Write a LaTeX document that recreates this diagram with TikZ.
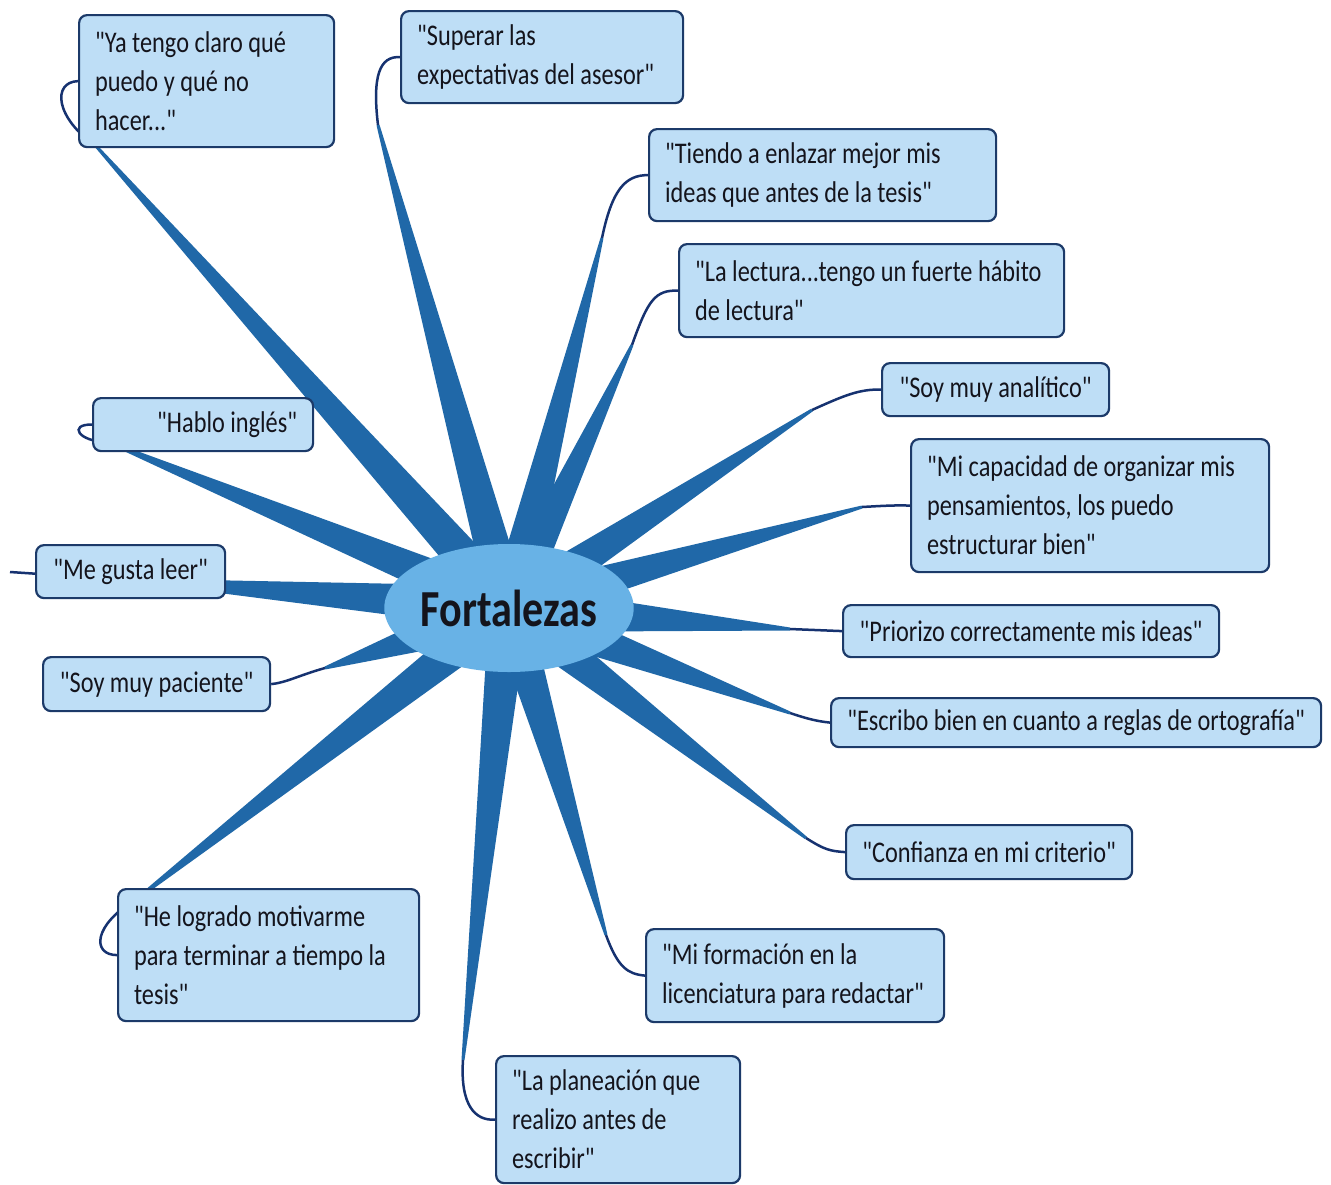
\documentclass[tikz,border=0pt]{standalone}
\usepackage{fontspec}
\setmainfont{Carlito}[FakeStretch=0.81, Ligatures=TeXOff]
\usepackage{xcolor}
\usetikzlibrary{calc,shapes.geometric,backgrounds}

\definecolor{cajafondo}{RGB}{190,222,246}
\definecolor{cajaborde}{RGB}{28,58,105}
\definecolor{ramaazul}{RGB}{32,104,168}
\definecolor{hiloazul}{RGB}{22,50,112}
\definecolor{centrofondo}{RGB}{104,178,230}
\definecolor{texto}{RGB}{20,20,28}

\begin{document}
\begin{tikzpicture}[x=1pt, y=-1pt,
  caja/.style={rectangle, rounded corners=8pt, draw=cajaborde, line width=2.2pt, fill=cajafondo, anchor=north west, inner xsep=16pt, inner ysep=0pt, text=texto, font=\fontsize{30}{39}\selectfont},
  centro/.style={ellipse, fill=centrofondo, minimum width=234pt, minimum height=128pt, inner sep=0pt, text=texto, font=\fontsize{52}{60}\selectfont\bfseries},
  rama/.style={fill=ramaazul},
  hilo/.style={draw=hiloazul, line width=2.5pt}]

\useasboundingbox (0,0) rectangle (1331,1184);

\node (fort) [centro] at (509,608) {Fortalezas};

\node (b1) [caja, text width=223pt, align=flush left, minimum height=132pt] at (78,14) {"Ya tengo claro qué\\puedo y qué no\\hacer..."};
\node (b2) [caja, text width=250pt, align=flush left, minimum height=92pt] at (400,10) {"Superar las\\expectativas del asesor"};
\node (b3) [caja, text width=315pt, align=flush left, minimum height=92pt] at (648,128) {"Tiendo a enlazar mejor mis\\ideas que antes de la tesis"};
\node (b4) [caja, text width=353pt, align=flush left, minimum height=93pt] at (678,243) {"La lectura...tengo un fuerte hábito\\de lectura"};
\node (b5) [caja, minimum width=227pt, minimum height=53pt] at (881,362) {"Soy muy analítico"};
\node (b6) [caja, text width=326pt, align=flush left, minimum height=133pt] at (910,438) {"Mi capacidad de organizar mis\\pensamientos, los puedo\\estructurar bien"};
\node (b7) [caja, minimum width=376pt, minimum height=52pt] at (842,604) {"Priorizo correctamente mis ideas"};
\node (b8) [caja, minimum width=490pt, minimum height=49pt] at (830,697) {"Escribo bien en cuanto a reglas de ortografía"};
\node (b9) [caja, minimum width=286pt, minimum height=54pt] at (845,824) {"Confianza en mi criterio"};
\node (b10) [caja, text width=266pt, align=flush left, minimum height=93pt] at (645,928) {"Mi formación en la\\licenciatura para redactar"};
\node (b11) [caja, text width=212pt, align=flush left, minimum height=127pt] at (495,1055) {"La planeación que\\realizo antes de\\escribir"};
\node (b12) [caja, text width=269pt, align=flush left, minimum height=132pt] at (117,888) {"He logrado motivarme\\para terminar a tiempo la\\tesis"};
\node (b13) [caja, minimum width=227pt, minimum height=54pt] at (42,656) {"Soy muy paciente"};
\node (b14) [caja, minimum width=189pt, minimum height=53pt] at (35,544) {"Me gusta leer"};
\node (b15) [caja, text width=188pt, align=flush right, minimum height=53pt] at (92,397) {"Hablo inglés"};

\coordinate (t1) at (96,146);
\coordinate (t2) at (378,125);
\coordinate (t3) at (602,238);
\coordinate (t4) at (632,345);
\coordinate (t5) at (812,410);
\coordinate (t6) at (862,507);
\coordinate (t7) at (790,629);
\coordinate (t8) at (790,713);
\coordinate (t9) at (806,838);
\coordinate (t10) at (606,935);
\coordinate (t11) at (463,1060);
\coordinate (t12) at (138,898);
\coordinate (t13) at (325,668);
\coordinate (t14) at (130,580);
\coordinate (t15) at (108,442);
\coordinate (c14) at (10,572);

\begin{scope}[on background layer]
\fill[white] (0,0) rectangle (1331,1184);

\fill[rama] ($(fort.center)!20pt!90:(t1)$) -- ($(t1)!1.5pt!-90:(fort.center)$) -- ($(t1)!1.5pt!90:(fort.center)$) -- ($(fort.center)!20pt!-90:(t1)$) -- cycle;
\fill[rama] ($(fort.center)!20pt!90:(t2)$) -- ($(t2)!1.5pt!-90:(fort.center)$) -- ($(t2)!1.5pt!90:(fort.center)$) -- ($(fort.center)!20pt!-90:(t2)$) -- cycle;
\fill[rama] ($(fort.center)!20pt!90:(t3)$) -- ($(t3)!1.5pt!-90:(fort.center)$) -- ($(t3)!1.5pt!90:(fort.center)$) -- ($(fort.center)!20pt!-90:(t3)$) -- cycle;
\fill[rama] ($(fort.center)!20pt!90:(t4)$) -- ($(t4)!1.5pt!-90:(fort.center)$) -- ($(t4)!1.5pt!90:(fort.center)$) -- ($(fort.center)!20pt!-90:(t4)$) -- cycle;
\fill[rama] ($(fort.center)!20pt!90:(t5)$) -- ($(t5)!1.5pt!-90:(fort.center)$) -- ($(t5)!1.5pt!90:(fort.center)$) -- ($(fort.center)!20pt!-90:(t5)$) -- cycle;
\fill[rama] ($(fort.center)!20pt!90:(t6)$) -- ($(t6)!1.5pt!-90:(fort.center)$) -- ($(t6)!1.5pt!90:(fort.center)$) -- ($(fort.center)!20pt!-90:(t6)$) -- cycle;
\fill[rama] ($(fort.center)!24pt!90:(t7)$) -- ($(t7)!1.5pt!-90:(fort.center)$) -- ($(t7)!1.5pt!90:(fort.center)$) -- ($(fort.center)!24pt!-90:(t7)$) -- cycle;
\fill[rama] ($(fort.center)!22pt!90:(t8)$) -- ($(t8)!1.5pt!-90:(fort.center)$) -- ($(t8)!1.5pt!90:(fort.center)$) -- ($(fort.center)!22pt!-90:(t8)$) -- cycle;
\fill[rama] ($(fort.center)!20pt!90:(t9)$) -- ($(t9)!1.5pt!-90:(fort.center)$) -- ($(t9)!1.5pt!90:(fort.center)$) -- ($(fort.center)!20pt!-90:(t9)$) -- cycle;
\fill[rama] ($(fort.center)!20pt!90:(t10)$) -- ($(t10)!1.5pt!-90:(fort.center)$) -- ($(t10)!1.5pt!90:(fort.center)$) -- ($(fort.center)!20pt!-90:(t10)$) -- cycle;
\fill[rama] ($(fort.center)!20pt!90:(t11)$) -- ($(t11)!1.5pt!-90:(fort.center)$) -- ($(t11)!1.5pt!90:(fort.center)$) -- ($(fort.center)!20pt!-90:(t11)$) -- cycle;
\fill[rama] ($(fort.center)!20pt!90:(t12)$) -- ($(t12)!1.5pt!-90:(fort.center)$) -- ($(t12)!1.5pt!90:(fort.center)$) -- ($(fort.center)!20pt!-90:(t12)$) -- cycle;
\fill[rama] ($(fort.center)!26pt!90:(t13)$) -- ($(t13)!1.5pt!-90:(fort.center)$) -- ($(t13)!1.5pt!90:(fort.center)$) -- ($(fort.center)!26pt!-90:(t13)$) -- cycle;
\fill[rama] ($(fort.center)!22pt!90:(t14)$) -- ($(t14)!1.5pt!-90:(fort.center)$) -- ($(t14)!1.5pt!90:(fort.center)$) -- ($(fort.center)!22pt!-90:(t14)$) -- cycle;
\fill[rama] ($(fort.center)!20pt!90:(t15)$) -- ($(t15)!1.5pt!-90:(fort.center)$) -- ($(t15)!1.5pt!90:(fort.center)$) -- ($(fort.center)!20pt!-90:(t15)$) -- cycle;

\draw[hilo] (t1) .. controls (55,118) and (52,82) .. (b1.west);
\draw[hilo] (t2) .. controls (372,75) and (380,56) .. (b2.west);
\draw[hilo] (t3) .. controls (612,190) and (625,175) .. (b3.west);
\draw[hilo] (t4) .. controls (648,300) and (655,290) .. (b4.west);
\draw[hilo] (t5) .. controls (845,395) and (860,389) .. (b5.west);
\draw[hilo] (t6) .. controls (880,506) and (895,505) .. (b6.west);
\draw[hilo] (t7) -- (b7.west);
\draw[hilo] (t8) .. controls (805,718) and (815,721) .. (b8.west);
\draw[hilo] (t9) .. controls (825,850) and (830,851) .. (b9.west);
\draw[hilo] (t10) .. controls (618,968) and (628,974) .. (b10.west);
\draw[hilo] (t11) .. controls (460,1105) and (475,1121) .. (b11.west);
\draw[hilo] (t12) .. controls (92,925) and (92,955) .. (b12.west);
\draw[hilo] (t13) .. controls (300,675) and (285,683) .. (b13.east);
\draw[hilo] (t14) -- (c14);
\draw[hilo] (t15) .. controls (78,442) and (68,424) .. (b15.west);
\end{scope}
\end{tikzpicture}
\end{document}
